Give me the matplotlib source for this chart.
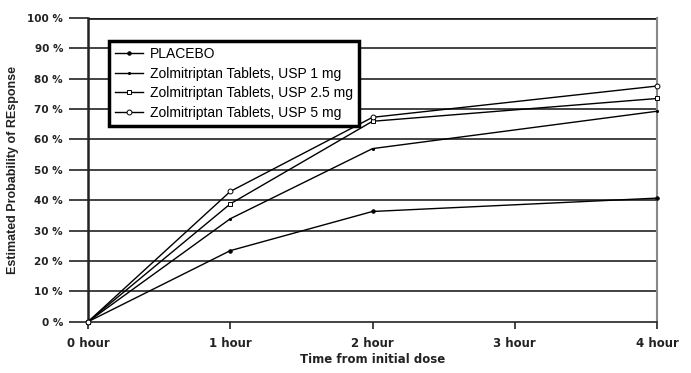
import matplotlib
matplotlib.use('Agg')
import matplotlib.pyplot as plt

hours = [0, 1, 2, 4]
hour_labels = ['0 hour', '1 hour', '2 hour', '3 hour', '4 hour']
placebo = [0, 23.4, 36.3, 40.7]
zolmi_1mg = [0, 33.9, 57.0, 69.3]
zolmi_2_5mg = [0, 38.8, 66.0, 73.5]
zolmi_5mg = [0, 42.9, 67.3, 77.6]

series = [
    ('PLACEBO', placebo, dict(marker='o', markersize=2.5, mfc='black')),
    ('Zolmitriptan Tablets, USP 1 mg', zolmi_1mg, dict(marker='.', markersize=3, mfc='black')),
    ('Zolmitriptan Tablets, USP 2.5 mg', zolmi_2_5mg, dict(marker='s', markersize=3, mfc='white')),
    ('Zolmitriptan Tablets, USP 5 mg', zolmi_5mg, dict(marker='o', markersize=3.5, mfc='white')),
]

fig = plt.figure(figsize=(6.91, 3.73), dpi=100)
ax = fig.add_axes([0.1274, 0.1375, 0.8234, 0.8142])

for y in range(10, 101, 10):
    ax.axhline(y, color='#222222', lw=1.2 if y < 100 else 2.0, zorder=1)

for label, vals, style in series:
    ax.plot(hours, vals, color='black', lw=1.0, mec='black', mew=0.7,
            label=label, zorder=3, clip_on=False, **style)

ax.set_xlim(0, 4)
ax.set_ylim(0, 100)
ax.set_xticks(range(5))
ax.set_xticklabels(hour_labels, fontsize=8.5, fontweight='bold', color='#222222')
ax.set_yticks(range(0, 101, 10))
ax.set_yticklabels([f'{v} %' for v in range(0, 101, 10)], fontsize=7.5,
                   fontweight='bold', color='#222222')
ax.tick_params(axis='y', length=14, width=1.2, color='#222222', pad=4)
ax.tick_params(axis='x', length=5, width=1.2, color='#222222', pad=6)

ax.spines['left'].set_linewidth(1.8)
ax.spines['left'].set_color('#222222')
ax.spines['bottom'].set_linewidth(1.2)
ax.spines['bottom'].set_color('#222222')
ax.spines['top'].set_visible(False)
ax.spines['right'].set_color('#888888')
ax.spines['right'].set_linewidth(1.5)

ax.set_xlabel('Time from initial dose', fontsize=8.5, fontweight='bold', color='#222222', labelpad=2)
ax.set_ylabel('Estimated Probability of REsponse', fontsize=9, color='#222222',
              family='Liberation Sans', fontweight='bold', labelpad=6)

leg = ax.legend(loc='upper left', bbox_to_anchor=(0.024, 0.948), frameon=True,
                fancybox=False, edgecolor='black', framealpha=1,
                prop=dict(family='Liberation Sans', size=10),
                handlelength=2.0, handletextpad=0.5, borderpad=0.45, labelspacing=0.4)
leg.get_frame().set_linewidth(2.5)
leg.set_zorder(5)

fig.savefig('out.png', dpi=100)
